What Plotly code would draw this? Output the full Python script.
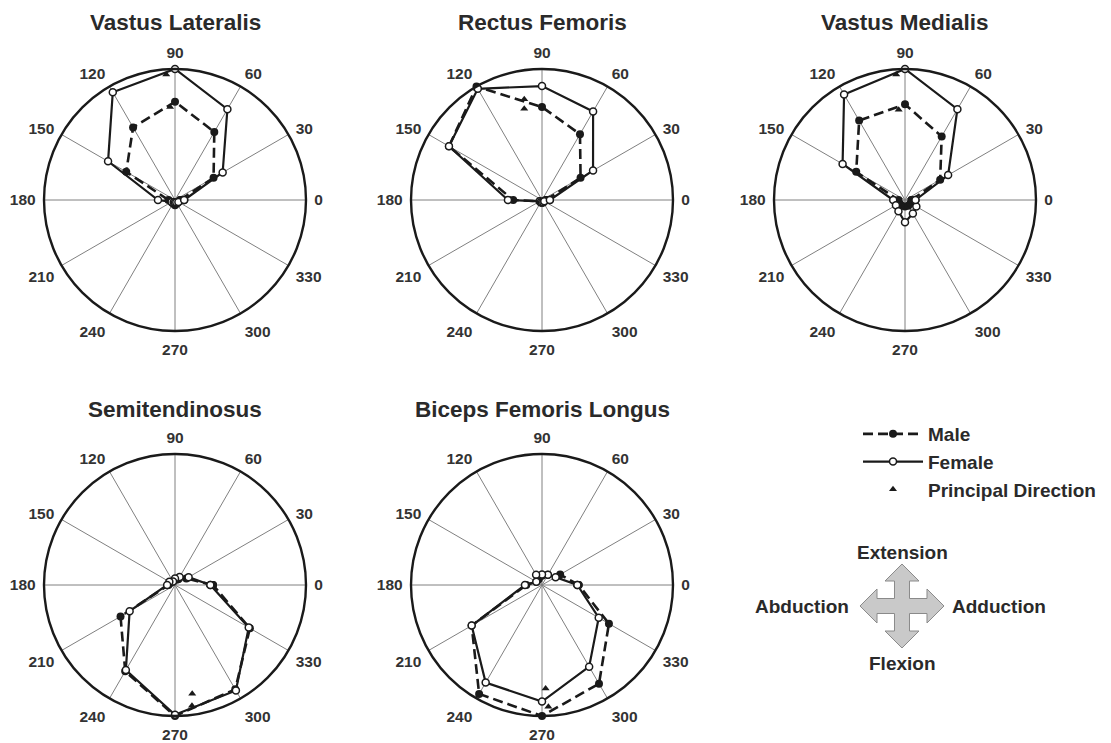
import plotly.graph_objects as go

# Direction angles (degrees) around each polar plot
ANGLES = [0, 30, 60, 90, 120, 150, 180, 210, 240, 270, 300, 330]
ANGLE_LABELS = [str(a) for a in ANGLES]

MUSCLES = ["Vastus Lateralis", "Rectus Femoris", "Vastus Medialis",
           "Semitendinosus", "Biceps Femoris Longus"]

# Normalised activation per direction (outer circle = 1)
vl_male = [0.04, 0.34, 0.60, 0.75, 0.64, 0.43, 0.05, 0.03, 0.03, 0.04, 0.03, 0.03]
vl_female = [0.07, 0.42, 0.80, 1.00, 0.95, 0.59, 0.13, 0.03, 0.02, 0.02, 0.02, 0.03]

rf_male = [0.03, 0.34, 0.58, 0.71, 1.00, 0.82, 0.22, 0.02, 0.02, 0.02, 0.02, 0.02]
rf_female = [0.06, 0.45, 0.78, 0.87, 0.98, 0.82, 0.26, 0.02, 0.02, 0.02, 0.02, 0.02]

vm_male = [0.05, 0.31, 0.56, 0.73, 0.70, 0.43, 0.05, 0.05, 0.05, 0.05, 0.05, 0.05]
vm_female = [0.08, 0.38, 0.80, 1.00, 0.93, 0.55, 0.09, 0.08, 0.10, 0.17, 0.12, 0.10]

st_male = [0.29, 0.10, 0.05, 0.04, 0.03, 0.04, 0.05, 0.48, 0.76, 1.00, 0.92, 0.66]
st_female = [0.27, 0.12, 0.07, 0.05, 0.03, 0.05, 0.06, 0.40, 0.75, 0.99, 0.93, 0.65]

bfl_male = [0.28, 0.16, 0.09, 0.07, 0.05, 0.05, 0.12, 0.62, 0.96, 1.00, 0.87, 0.59]
bfl_female = [0.27, 0.12, 0.09, 0.08, 0.09, 0.05, 0.13, 0.62, 0.86, 0.89, 0.72, 0.50]

MALE = [vl_male, rf_male, vm_male, st_male, bfl_male]
FEMALE = [vl_female, rf_female, vm_female, st_female, bfl_female]

# Principal direction (angle, magnitude) for female / male
pd_female_angle = [94, 100, 94, 279, 272]
pd_female_r = [0.96, 0.78, 0.96, 0.84, 0.79]
pd_male_angle = [93, 101, 94, 278, 273]
pd_male_r = [0.71, 0.71, 0.69, 0.93, 0.93]

W, H = 1111, 743
R = 131
CENTERS = [(175, 200), (542, 200), (905, 200), (175, 585), (542, 585)]
TITLE_Y = [23, 23, 23, 410, 410]

FONT = "Liberation Sans, Arial, sans-serif"
INK = "#1a1a1a"

fig = go.Figure()
layout = {}

for i, name in enumerate(MUSCLES):
    key = "polar" if i == 0 else f"polar{i + 1}"
    cx, cy = CENTERS[i]
    layout[key] = dict(
        domain=dict(x=[(cx - R) / W, (cx + R) / W],
                    y=[(H - cy - R) / H, (H - cy + R) / H]),
        bgcolor="white",
        radialaxis=dict(visible=False, range=[0, 1]),
        angularaxis=dict(
            rotation=0, direction="counterclockwise",
            tickmode="array", tickvals=ANGLES, ticktext=ANGLE_LABELS,
            ticks="outside", ticklen=4, tickcolor="rgba(0,0,0,0)",
            showgrid=True, gridcolor="#808080", gridwidth=1,
            showline=True, linecolor=INK, linewidth=2.4,
            tickfont=dict(family=FONT, size=15.5, color="#333", weight="bold"),
        ),
    )
    theta = ANGLES + [ANGLES[0]]
    fig.add_trace(go.Scatterpolar(
        r=MALE[i] + [MALE[i][0]], theta=theta, subplot=key,
        mode="lines+markers", name="Male", legendgroup="m",
        showlegend=(i == 0),
        line=dict(color=INK, width=2.6, dash="10px,5px"),
        marker=dict(symbol="circle", size=8, color=INK),
    ))
    fig.add_trace(go.Scatterpolar(
        r=FEMALE[i] + [FEMALE[i][0]], theta=theta, subplot=key,
        mode="lines+markers", name="Female", legendgroup="f",
        showlegend=(i == 0),
        line=dict(color=INK, width=2.2),
        marker=dict(symbol="circle", size=7, color="white",
                    line=dict(color=INK, width=1.5)),
    ))
    fig.add_trace(go.Scatterpolar(
        r=[pd_female_r[i], pd_male_r[i]],
        theta=[pd_female_angle[i], pd_male_angle[i]], subplot=key,
        mode="markers", name="Principal Direction", legendgroup="p",
        showlegend=(i == 0),
        marker=dict(symbol="triangle-up", size=7, color=INK),
    ))

annotations = []
for i, name in enumerate(MUSCLES):
    cx, _ = CENTERS[i]
    annotations.append(dict(
        text=name, x=cx / W, y=(H - TITLE_Y[i]) / H, xref="paper", yref="paper",
        showarrow=False, xanchor="center", yanchor="middle",
        font=dict(family=FONT, size=22.5, color="#2a2a2a", weight="bold"),
    ))

# Movement-direction key: four-way arrow with labels
acx, acy = 902, 606
s, hh, t, hl = 7.5, 17, 42, 17
pts = [
    (acx, acy - t), (acx + hh, acy - t + hl), (acx + s, acy - t + hl),
    (acx + s, acy - s), (acx + t - hl, acy - s), (acx + t - hl, acy - hh),
    (acx + t, acy), (acx + t - hl, acy + hh), (acx + t - hl, acy + s),
    (acx + s, acy + s), (acx + s, acy + t - hl), (acx + hh, acy + t - hl),
    (acx, acy + t), (acx - hh, acy + t - hl), (acx - s, acy + t - hl),
    (acx - s, acy + s), (acx - t + hl, acy + s), (acx - t + hl, acy + hh),
    (acx - t, acy), (acx - t + hl, acy - hh), (acx - t + hl, acy - s),
    (acx - s, acy - s), (acx - s, acy - t + hl), (acx - hh, acy - t + hl),
]
path = "M " + " L ".join(f"{x / W:.5f},{(H - y) / H:.5f}" for x, y in pts) + " Z"
shapes = [dict(type="path", path=path, xref="paper", yref="paper",
               fillcolor="#c9c9c9", line=dict(color="#8a8a8a", width=1))]

key_font = dict(family=FONT, size=19, color="#2a2a2a", weight="bold")
for txt, x, y, xa in [("Extension", 902, 552, "center"),
                      ("Flexion", 902, 663, "center"),
                      ("Abduction", 851, 606, "right"),
                      ("Adduction", 950, 606, "left")]:
    annotations.append(dict(text=txt, x=x / W, y=(H - y) / H, xref="paper",
                            yref="paper", showarrow=False, xanchor=xa,
                            yanchor="middle", font=key_font))

fig.update_layout(
    **layout,
    width=W, height=H,
    margin=dict(l=0, r=0, t=0, b=0),
    paper_bgcolor="white",
    showlegend=True,
    legend=dict(x=858 / W, y=(H - 415) / H, xanchor="left", yanchor="top",
                bgcolor="rgba(0,0,0,0)",
                font=dict(family=FONT, size=19, color="#2a2a2a", weight="bold"),
                itemwidth=60, tracegroupgap=0),
    annotations=annotations,
    shapes=shapes,
)

fig.write_html("out.html")
